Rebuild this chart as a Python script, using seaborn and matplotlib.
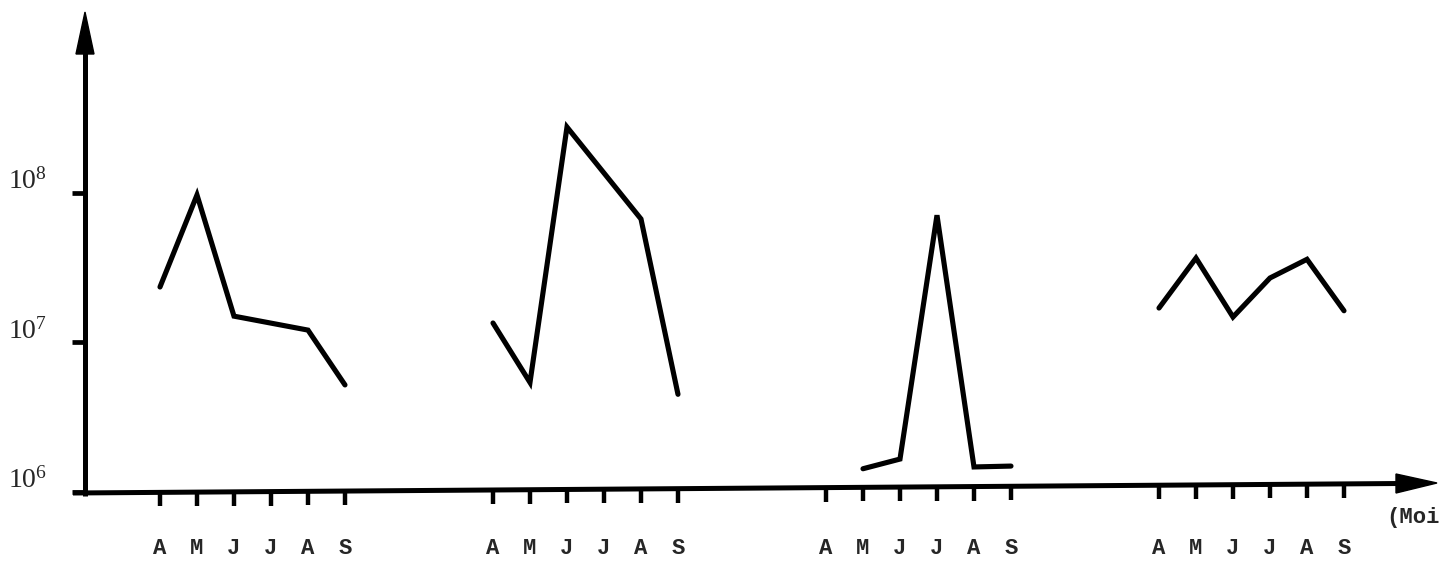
import matplotlib
matplotlib.use("Agg")
import numpy as np
import pandas as pd
import seaborn as sns
import matplotlib.pyplot as plt
from matplotlib import transforms
from matplotlib.patches import Polygon

# Month labels shown under each seasonal block
months = ["A", "M", "J", "J", "A", "S"]

# Measured points per season: month index (0 = A ... 5 = S) and value
s1_month = [0, 1, 2, 4, 5]
s1_value = [2.35e7, 9.7e7, 1.5e7, 1.21e7, 5.2e6]

s2_month = [0, 1, 2, 4, 5]
s2_value = [1.35e7, 5.4e6, 2.76e8, 6.7e7, 4.5e6]

s3_month = [1, 2, 3, 4, 5]
s3_value = [1.43e6, 1.66e6, 7.1e7, 1.47e6, 1.49e6]

s4_month = [0, 1, 2, 3, 4, 5]
s4_value = [1.7e7, 3.67e7, 1.48e7, 2.7e7, 3.6e7, 1.63e7]

decade_ticks = [1e6, 1e7, 1e8]
decade_labels = [r"$\mathregular{10^{6}}$", r"$\mathregular{10^{7}}$", r"$\mathregular{10^{8}}$"]
axis_label = "(Moi"

SLOTS = 9  # horizontal slots reserved per season block

frames = []
for i, (m, v) in enumerate([(s1_month, s1_value), (s2_month, s2_value),
                            (s3_month, s3_value), (s4_month, s4_value)]):
    frames.append(pd.DataFrame({"season": i,
                                "x": SLOTS * i + np.asarray(m, dtype=float),
                                "value": v}))
df = pd.concat(frames, ignore_index=True)

sns.set_style("white")
plt.rcParams["font.family"] = ["Liberation Mono", "DejaVu Sans"]

W, H = 1443, 570
fig = plt.figure(figsize=(W / 100, H / 100), dpi=100)
ax = fig.add_axes([0, 0, 1, 1])
ax.set_yscale("log")
ax.set_xlim(-4.324, 34.676)
ax.set_ylim(10 ** 5.478, 10 ** 9.291)

sns.lineplot(data=df, x="x", y="value", units="season", estimator=None,
             sort=False, color="black", lw=3.7, legend=False, ax=ax,
             solid_joinstyle="miter", solid_capstyle="round")
ax.set_axis_off()

# pixel frame measured from the top-left corner of the figure
pix = transforms.Affine2D().scale(1 / W, -1 / H).translate(0, 1) + ax.transAxes
ink = dict(color="black", solid_capstyle="butt", clip_on=False)

# vertical axis with arrow head
ax.plot([85, 85], [496, 45], transform=pix, lw=3.6, **ink)
ax.add_patch(Polygon([[76, 54], [94, 54], [85, 12]], closed=True,
                     facecolor="black", edgecolor="black", transform=pix))

# horizontal axis (slightly rising to the right) with arrow head
x0, y0, x1, y1 = 73, 493, 1400, 483.5
ax.plot([x0, x1], [y0, y1], transform=pix, lw=3.6, **ink)
ax.add_patch(Polygon([[1396, 474], [1396, 493], [1437, 483]], closed=True,
                     facecolor="black", edgecolor="black", transform=pix))


def axis_y(px):
    return y0 + (px - x0) * (y1 - y0) / (x1 - x0)


# decade ticks and labels on the vertical axis
data_to_pix = ax.transData + pix.inverted()
for val, lab in zip(decade_ticks, decade_labels):
    py = data_to_pix.transform((0, val))[1]
    ax.plot([72, 85], [py, py], transform=pix, lw=3.4, **ink)
    ax.text(8, py + 2, lab, transform=pix, fontsize=20, ha="left",
            va="bottom", family=["Liberation Serif", "DejaVu Serif"])

# month ticks and labels under each season block
for i in range(4):
    for j, lab in enumerate(months):
        px = data_to_pix.transform((SLOTS * i + j, 1e6))[0]
        ya = axis_y(px)
        ax.plot([px, px], [ya, ya + 14], transform=pix, lw=3.2, **ink)
        ax.text(px, 549, lab, transform=pix, fontsize=16, ha="center",
                va="center", fontweight="bold")

ax.text(1386, 518, axis_label, transform=pix, fontsize=16, ha="left",
        va="center", fontweight="bold")

fig.savefig("out.png", dpi=100, facecolor="white")
